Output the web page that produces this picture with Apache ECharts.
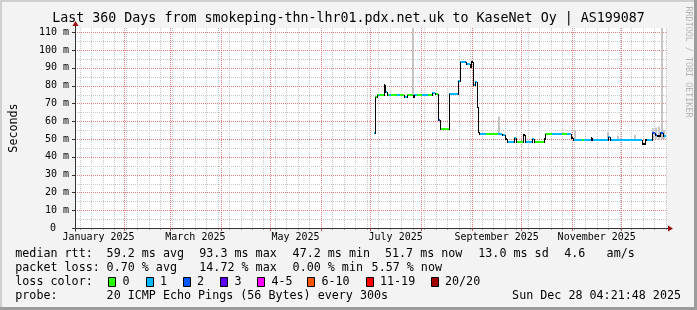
<!DOCTYPE html>
<html><head><meta charset="utf-8">
<script src="https://cdn.jsdelivr.net/npm/echarts@6/dist/echarts.min.js"></script>
<style>html,body{margin:0;padding:0;background:#f3f3f3}#c{width:697px;height:310px}</style>
</head><body><div id="c"></div>
<script>
// ---- data (x = day of year 2025, 0 = Jan 1 00:00) ----
const TITLE = 'Last 360 Days from smokeping-thn-lhr01.pdx.net.uk to KaseNet Oy | AS199087';
const Y_NAME = 'Seconds';
const xMin = 1.18, xMax = 361.18, yMin = 0, yMax = 112.4;
const monthStarts = [31,59,90,120,151,181,212,243,273,304,334];
const weekStarts = [4,11,18,25,32,39,46,53,60,67,74,81,88,95,102,109,116,123,130,137,144,151,158,165,172,179,186,193,200,207,214,221,228,235,242,249,256,263,270,277,284,291,298,305,312,319,326,333,340,347,354,361];
const monthLabels = ['January 2025','March 2025','May 2025','July 2025','September 2025','November 2025'];
const monthLabelDays = [15.5,74.5,135.5,196.5,258,319];
const yMajorTicks = [0,10,20,30,40,50,60,70,80,90,100,110];
const yMinorTicks = [5,15,25,35,45,55,65,75,85,95,105];

// median rtt (ms), step segments: start day, value, loss class (-1 = none)
const segDay = [183.4,184.0,185.1,186.6,187.2,189.2,190.2,191.4,192.6,193.8,197.4,199.2,201.6,203.6,206.9,207.5,209.4,212.4,216.0,218.6,220.6,222.6,223.5,229.2,234.6,235.6,238.6,239.4,241.6,242.6,243.6,244.6,246.3,246.8,247.5,251.4,258.6,261.0,263.4,264.3,268.8,269.7,270.6,274.3,275.1,279.6,280.5,281.4,286.6,287.4,291.6,297.6,300.6,303.6,304.5,309.9,311.4,315.6,316.2,326.1,327.3,346.8,348.6,349.8,352.5,354.6,355.8,357.6,359.4];
const segMs = [53.2,73.4,74.7,75.0,74.7,80.2,76.5,75.0,74.5,74.8,74.8,74.8,73.6,74.7,73.8,74.7,74.7,74.7,74.7,76.0,75.5,60.7,55.8,75.3,82.6,93.1,93.3,92.1,90.6,93.1,80.3,81.8,68.2,54.0,52.8,52.8,52.8,52.3,49.8,48.3,50.4,48.3,48.3,52.0,48.3,49.9,48.3,48.3,50.0,52.6,52.6,52.6,52.9,50.4,49.6,49.6,49.6,50.3,49.6,50.9,49.6,47.2,49.3,49.6,53.4,52.0,51.5,53.5,51.7];
const segLoss = [1,0,0,1,0,-1,1,0,1,0, 1,0,1,0,3,1,0,1,0,1, 0,2,0,1,1,1,2,1,0,-1, 1,1,0,2,1,0,1,1,-1,1, 1,1,0,-1,1,1,1,0,-1,0, 1,0,1,-1,1,0,1,-1,1,1, 1,-1,-1,1,2,2,-1,2,1];

// smoke (spread of pings): day, low, high (ms)
const smokeDay = [207.2,259.6,298.6,305.6,326.1,331.8,342.6,353.4,355.2,357.0,358.6,360.0];
const smokeLo  = [74.7,52.8,52.6,49.6,49.6,49.6,49.6,50.0,50.0,49.5,50.0,50.0];
const smokeHi  = [112.4,62.7,54.0,55.0,54.0,51.8,52.2,56.0,56.5,57.0,112.4,55.0];

const lossNames = ['0','1','2','3','4-5','6-10','11-19','20/20'];
const lossColors = ['#26ff00','#00b8ff','#0059ff','#5e00ff','#ff00ff','#ff5500','#ff0000','#a00000'];

const statRows = [
  ['median rtt:', ['59.2 ms avg','93.3 ms max','47.2 ms min','51.7 ms now','13.0 ms sd','4.6','am/s']],
  ['packet loss:', ['0.70 % avg','14.72 % max','0.00 % min','5.57 % now']]
];
const probeText = '20 ICMP Echo Pings (56 Bytes) every 300s';
const dateText = 'Sun Dec 28 04:21:48 2025';
const watermark = 'RRDTOOL / TOBI OETIKER';

// ---- styles / layout ----
const MONO = '"DejaVu Sans Mono", monospace';
const FONT_L = '11.7px ' + MONO;
const GRID_COLORS = ['#c8c8c8', '#e37d7d', '#c8c8c8', '#e37d7d']; // weekV, monthV, minorH, majorH
const AXIS = '#333';
const ARROW = '#9b1010';

const chart = echarts.init(document.getElementById('c'), null, {renderer: 'canvas'});

const medianItems = segDay.map((d, i) => [d, i + 1 < segDay.length ? segDay[i + 1] : xMax, segMs[i], i > 0 ? segMs[i - 1] : segMs[i], segLoss[i]]);
const smokeItems = smokeDay.map((d, i) => [d, smokeLo[i], smokeHi[i]]);
// kinds: 0 week vertical, 1 month vertical, 2 minor horizontal, 3 major horizontal
const gridItems = [].concat(
  yMinorTicks.map(v => [xMin, v, 2]),
  weekStarts.map(d => [d, yMin, 0]),
  yMajorTicks.filter(v => v > yMin).map(v => [xMin, v, 3]),
  monthStarts.map(d => [d, yMin, 1])
);

const graphics = [];
graphics.push({type:'rect', shape:{x:0,y:0,width:697,height:2}, style:{fill:'#cfcfcf'}, silent:true});
graphics.push({type:'rect', shape:{x:0,y:0,width:2,height:310}, style:{fill:'#cfcfcf'}, silent:true});
graphics.push({type:'rect', shape:{x:0,y:307,width:697,height:3}, style:{fill:'#9c9c9c'}, silent:true});
graphics.push({type:'rect', shape:{x:694,y:0,width:3,height:310}, style:{fill:'#9c9c9c'}, silent:true});
graphics.push({type:'text', x:688, y:62, rotation:-Math.PI/2, style:{text:watermark, x:0, y:0, font:'8.4px ' + MONO, fill:'#b4b4b4', align:'center', verticalAlign:'middle', textAlign:'center', textVerticalAlign:'middle'}, silent:true});
const statX = [[106.6,199.3,292.6,385,478.3,564.3,606.6],[106.6,199.3,292.6,371.6]];
const rowY = [254.3, 268.3, 282.3, 296];
function txt(t, x, y, align) {
  return {type:'text', style:{text:t, x:x, y:y, font:FONT_L, fill:'#000', align:align||'left', verticalAlign:'middle', textAlign:align||'left', textVerticalAlign:'middle'}, silent:true};
}
statRows.forEach((r, ri) => {
  graphics.push(txt(r[0], 15.3, rowY[ri]));
  r[1].forEach((s, si) => graphics.push(txt(s, statX[ri][si], rowY[ri])));
});
graphics.push(txt('loss color:', 15.3, rowY[2]));
const boxX = [108, 145.5, 182.5, 220, 257, 307, 365.5, 430.5];
lossNames.forEach((n, i) => {
  const bx = Math.round(boxX[i]) + 0.5;
  graphics.push({type:'rect', shape:{x:bx, y:277.5, width:7, height:9}, style:{fill:lossColors[i], stroke:'#000', lineWidth:1}, silent:true});
  graphics.push(txt(n, boxX[i] + 14.5, rowY[2]));
});
graphics.push(txt('probe:', 15.3, rowY[3]));
graphics.push(txt(probeText, 106.6, rowY[3]));
graphics.push(txt(dateText, 681, rowY[3], 'right'));

function vTickSeries(days, color, len, z) {
  return {type: 'custom', clip: false, silent: true, z: z, data: days.map(d => [d, yMin]),
    renderItem: (p, api) => {
      const d = api.value(0);
      if (d < xMin || d > xMax) return null;
      const a = api.coord([d, yMin]);
      const x = Math.round(a[0]) + 0.5;
      return {type: 'line', shape: {x1: x, y1: a[1], x2: x, y2: a[1] + len}, style: {stroke: color, lineWidth: 1}};
    }};
}

const option = {
  backgroundColor: '#f3f3f3',
  animation: false,
  title: {text: TITLE, left: 'center', top: 12, padding: 0, textStyle: {fontFamily: MONO, fontSize: 13.3, fontWeight: 'normal', color: '#000', lineHeight: 14}},
  grid: {left: 66, top: 28, width: 600, height: 200, show: false},
  xAxis: {
    type: 'value', min: xMin, max: xMax,
    axisLine: {show: false}, axisTick: {show: false}, splitLine: {show: false},
    axisLabel: {
      customValues: monthLabelDays, margin: 4,
      formatter: v => { const i = monthLabelDays.indexOf(v); return i >= 0 ? monthLabels[i] : ''; },
      fontFamily: MONO, fontSize: 10, color: '#000', showMinLabel: true, showMaxLabel: true, hideOverlap: false
    }
  },
  yAxis: {
    type: 'value', min: yMin, max: yMax, interval: 10,
    name: Y_NAME, nameLocation: 'middle', nameRotate: 90, nameGap: 55,
    nameTextStyle: {fontFamily: MONO, fontSize: 11.7, color: '#000'},
    axisLine: {show: false}, splitLine: {show: false}, axisTick: {show: false},
    axisLabel: {
      margin: 6, showMaxLabel: false, fontFamily: MONO, fontSize: 10, color: '#000',
      formatter: v => v === 0 ? '{z|0}' : v + ' m',
      rich: {z: {fontFamily: MONO, fontSize: 10, color: '#000', padding: [0, 13, 0, 0]}}
    }
  },
  graphic: graphics,
  series: [
    { // plot background
      type: 'custom', clip: false, silent: true, z: 1, data: [[xMin, yMin]],
      renderItem: (p, api) => {
        const o = api.coord([xMin, yMin]), e = api.coord([xMax, yMax]);
        return {type: 'rect', shape: {x: o[0], y: e[1], width: e[0] - o[0], height: o[1] - e[1]}, style: {fill: '#fff'}};
      }
    },
    { // grid lines (dotted)
      type: 'custom', clip: false, silent: true, z: 2, data: gridItems,
      renderItem: (p, api) => {
        const k = api.value(2);
        const o = api.coord([xMin, yMin]), e = api.coord([xMax, yMax]);
        let shape;
        if (k < 2) {
          const d = api.value(0);
          if (d < xMin || d > xMax) return null;
          const x = Math.round(api.coord([d, yMin])[0]) + 0.5;
          shape = {x1: x, y1: Math.round(e[1]), x2: x, y2: Math.round(o[1])};
        } else {
          const y = Math.round(api.coord([xMin, api.value(1)])[1]) + 0.5;
          shape = {x1: Math.round(o[0]), y1: y, x2: Math.round(e[0]), y2: y};
        }
        return {type: 'line', z2: k, shape: shape, style: {stroke: GRID_COLORS[k], lineWidth: 1, lineDash: [1, 1], lineDashOffset: 0}};
      }
    },
    vTickSeries(weekStarts, '#aaa', 2, 6),
    vTickSeries(monthStarts, '#e05050', 3, 6),
    { // y ticks
      type: 'custom', clip: false, silent: true, z: 6, data: yMajorTicks.map(v => [xMin, v]),
      renderItem: (p, api) => {
        const a = api.coord([xMin, api.value(1)]);
        const y = Math.round(a[1]) + 0.5;
        return {type: 'line', shape: {x1: Math.round(a[0]) - 3, y1: y, x2: Math.round(a[0]), y2: y}, style: {stroke: AXIS, lineWidth: 1}};
      }
    },
    { // smoke
      type: 'custom', clip: true, silent: true, z: 4, data: smokeItems,
      renderItem: (p, api) => {
        const lo = api.coord([api.value(0), api.value(1)]), hi = api.coord([api.value(0), api.value(2)]);
        return {type: 'rect', shape: {x: Math.round(lo[0]) - 1, y: hi[1], width: 2, height: lo[1] - hi[1]}, style: {fill: '#c4c4c4'}};
      }
    },
    { // median rtt coloured by loss
      type: 'custom', clip: true, silent: true, z: 5, data: medianItems,
      renderItem: (p, api) => {
        const d0 = api.value(0), d1 = api.value(1), v = api.value(2), pv = api.value(3), loss = api.value(4);
        const a = api.coord([d0, v]), b = api.coord([d1, v]), c = api.coord([d0, pv]);
        const x0 = Math.round(a[0]), x1 = Math.round(b[0]), y = Math.round(a[1]), yp = Math.round(c[1]);
        const ch = [];
        ch.push({type: 'rect', shape: {x: x0, y: y - 1, width: Math.max(1, x1 - x0), height: 2}, style: {fill: loss < 0 ? '#000' : lossColors[loss]}});
        if (yp !== y) ch.push({type: 'rect', shape: {x: x0, y: Math.min(y, yp), width: 1, height: Math.abs(y - yp) + 1}, style: {fill: '#000'}});
        return {type: 'group', children: ch};
      }
    },
    { // axes with arrows
      type: 'custom', clip: false, silent: true, z: 7, data: [[xMin, yMin]],
      renderItem: (p, api) => {
        const o = api.coord([xMin, yMin]), r = api.coord([xMax, yMin]), t = api.coord([xMin, yMax]);
        const x0 = Math.round(o[0]) + 0.5, y0 = Math.round(o[1]) + 0.5, xr = Math.round(r[0]), yt = Math.round(t[1]);
        return {type: 'group', children: [
          {type: 'line', shape: {x1: x0 - 3, y1: y0, x2: xr + 3, y2: y0}, style: {stroke: AXIS, lineWidth: 1}},
          {type: 'line', shape: {x1: x0, y1: y0 + 3, x2: x0, y2: yt - 5}, style: {stroke: AXIS, lineWidth: 1}},
          {type: 'polygon', shape: {points: [[xr + 2, y0 - 3], [xr + 7, y0], [xr + 2, y0 + 3]]}, style: {fill: ARROW}},
          {type: 'polygon', shape: {points: [[x0 - 3, yt - 2], [x0, yt - 7], [x0 + 3, yt - 2]]}, style: {fill: ARROW}}
        ]};
      }
    }
  ]
};
chart.setOption(option);
</script></body></html>
